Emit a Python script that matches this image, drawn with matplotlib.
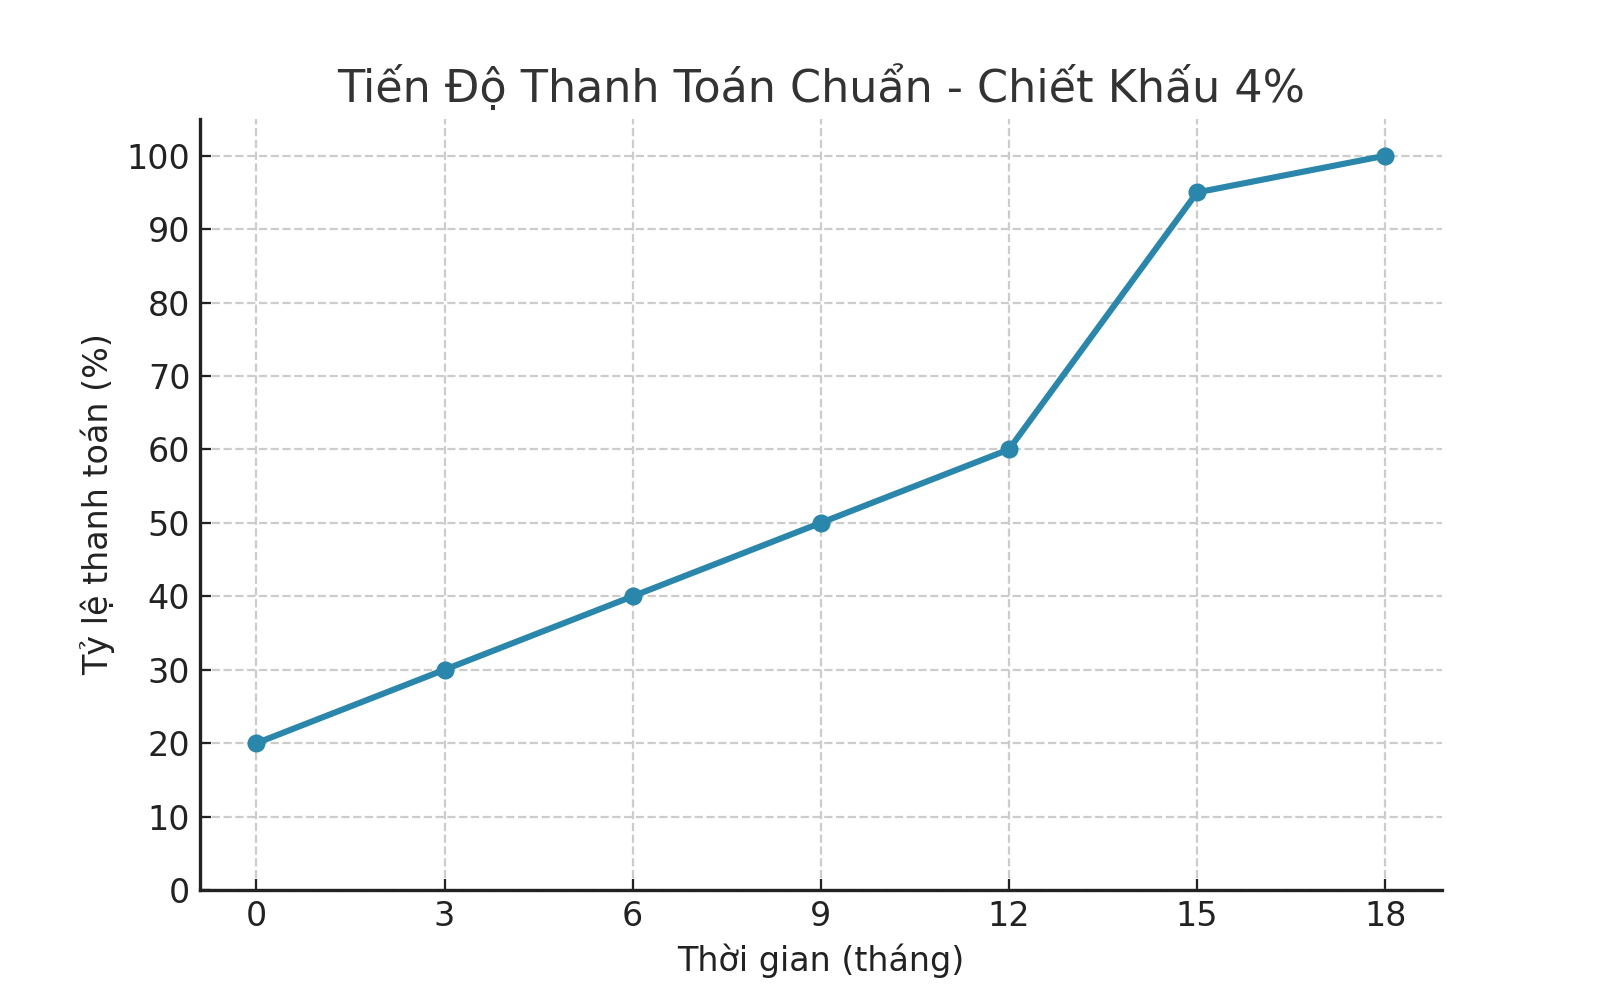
import matplotlib.pyplot as plt

months = [0, 3, 6, 9, 12, 15, 18]
payment_pct = [20, 30, 40, 50, 60, 95, 100]
y_ticks = list(range(0, 101, 10))

fig, ax = plt.subplots(figsize=(8, 5), dpi=200)
fig.subplots_adjust(left=0.125, right=0.901, bottom=0.11, top=0.881)

ax.plot(months, payment_pct, marker='o', color='#2b86ab', linewidth=2.2, markersize=5.5)

ax.set_title('Tiến Độ Thanh Toán Chuẩn - Chiết Khấu 4%', fontsize=16, color='#333333')
ax.set_xlabel('Thời gian (tháng)', fontsize=12, color='#222222')
ax.set_ylabel('Tỷ lệ thanh toán (%)', fontsize=12, color='#222222')

ax.set_xticks(months)
ax.set_yticks(y_ticks)
ax.set_ylim(0, 105)
ax.set_xlim(-0.9, 18.9)
ax.tick_params(direction='in', labelsize=12, colors='#222222', length=4)
ax.grid(True, linestyle='--', color='#cccccc', linewidth=0.8)
ax.spines['top'].set_visible(False)
ax.spines['right'].set_visible(False)
for s in ['left', 'bottom']:
    ax.spines[s].set_color('#222222')
    ax.spines[s].set_linewidth(1.2)

fig.savefig('out.png')
